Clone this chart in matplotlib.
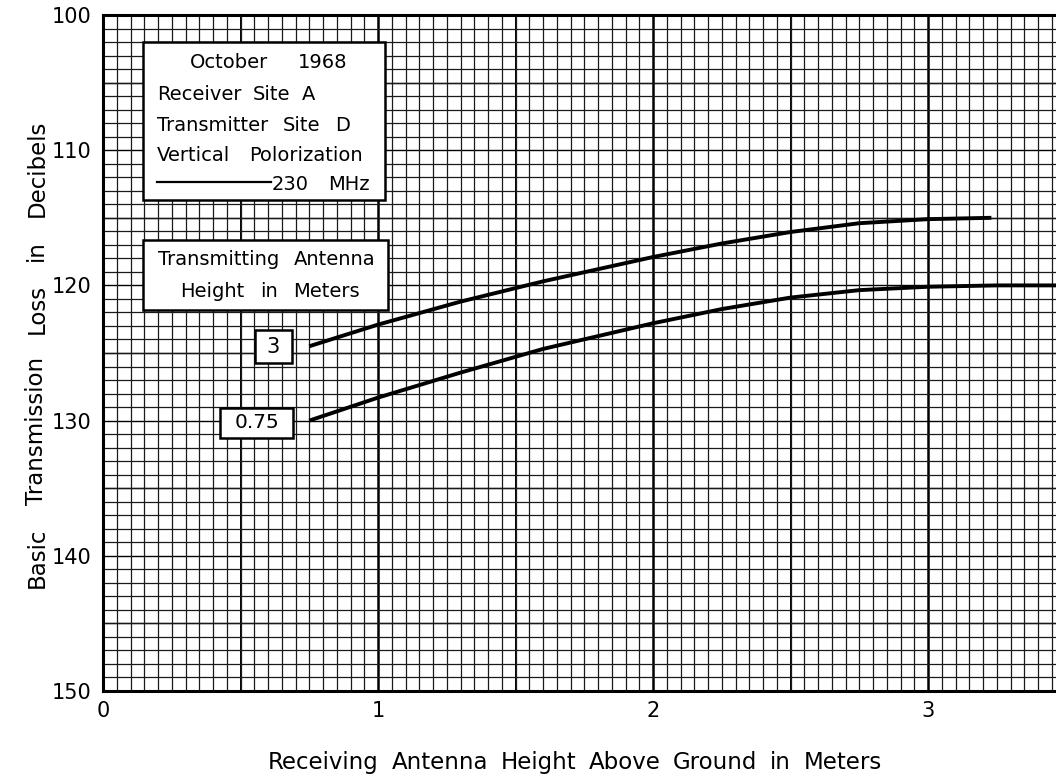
import matplotlib
matplotlib.use("Agg")
import matplotlib.pyplot as plt
import numpy as np
from matplotlib.ticker import MultipleLocator
from matplotlib.patches import Rectangle

# Data
x_tx3 = [0.75, 1.0, 1.3, 1.6, 2.0, 2.25, 2.5, 2.75, 3.0, 3.23]
y_tx3 = [124.5, 122.9, 121.2, 119.7, 117.9, 116.9, 116.05, 115.4, 115.1, 115.0]
x_tx075 = [0.75, 1.0, 1.3, 1.6, 2.0, 2.25, 2.5, 2.75, 3.0, 3.25, 3.47]
y_tx075 = [130.0, 128.3, 126.45, 124.7, 122.8, 121.75, 120.9, 120.35, 120.1, 120.0, 120.0]
x_ticks = [0, 1, 2, 3]
y_ticks = [100, 110, 120, 130, 140, 150]

W, H = 1056, 780
fig = plt.figure(figsize=(W/100, H/100), dpi=100)
ax = fig.add_axes([103/W, 1 - 691/H, 1 - 103/W, (691 - 15)/H])
ax.set_xlim(0, 3.465)
ax.set_ylim(150, 100)

# graph-paper grid
ax.xaxis.set_minor_locator(MultipleLocator(0.05))
ax.yaxis.set_minor_locator(MultipleLocator(1))
ax.set_xticks(x_ticks)
ax.set_yticks(y_ticks)
ax.grid(False)
ax.grid(which='minor', color='#1a1a1a', lw=0.9)
ax.set_axisbelow(True)
for xv in np.arange(0.5, 3.5, 0.5):
    ax.axvline(xv, color='black', lw=1.4 if xv % 1 else 1.8, zorder=0.5)
for yv in np.arange(105, 150, 5):
    ax.axhline(yv, color='black', lw=1.0, zorder=0.5)
ax.tick_params(which='both', length=0)

tick_font = ['Liberation Sans Narrow', 'DejaVu Sans']
ax.set_xticklabels([str(v) for v in x_ticks], fontsize=15, family=tick_font)
ax.set_yticklabels([str(v) for v in y_ticks], fontsize=15, family=tick_font)
ax.tick_params(axis='x', pad=7)
ax.tick_params(axis='y', pad=8)
for s in ['left', 'bottom', 'top']:
    ax.spines[s].set_linewidth(2.2)
ax.spines['right'].set_visible(False)

ax.plot(x_tx3, y_tx3, color='black', lw=2.8, zorder=5, solid_capstyle='butt')
ax.plot(x_tx075, y_tx075, color='black', lw=2.8, zorder=5, solid_capstyle='butt')

renderer = fig.canvas.get_renderer()

def justify(words, x0, x1, y, size, vertical=False, z=11):
    """Spread words between pixel positions x0..x1 along one baseline.
    Horizontal: y = pixel row of the text's middle.  Vertical: x0 bottom, x1 top,
    y = pixel column of the text's middle."""
    half_cap = 0.365 * size * 100 / 72
    texts, widths = [], []
    for w in words:
        if vertical:
            t = fig.text(0, 0, w, fontsize=size, rotation=90, rotation_mode='anchor',
                         ha='left', va='baseline', zorder=z)
            widths.append(t.get_window_extent(renderer).height)
        else:
            t = fig.text(0, 0, w, fontsize=size, ha='left', va='baseline', zorder=z)
            widths.append(t.get_window_extent(renderer).width)
        texts.append(t)
    gap = (abs(x1 - x0) - sum(widths)) / max(len(words) - 1, 1)
    pos = 0.0
    for t, wd in zip(texts, widths):
        if vertical:
            t.set_position(((y + half_cap) / W, 1 - (x0 - pos) / H))
        else:
            t.set_position(((x0 + pos) / W, 1 - (y + half_cap) / H))
        pos += wd + gap
    return texts

justify(['Receiving', 'Antenna', 'Height', 'Above', 'Ground', 'in', 'Meters'], 268, 882, 761, 16.5)
justify(['Basic', 'Transmission', 'Loss', 'in', 'Decibels'], 588, 120, 35, 16.5, vertical=True)

def box(x0, y0, x1, y1, lw=1.8):
    r = Rectangle((x0 / W, 1 - y1 / H), (x1 - x0) / W, (y1 - y0) / H, transform=fig.transFigure,
                  facecolor='white', edgecolor='black', lw=lw, zorder=10)
    fig.add_artist(r)

box(143, 42, 385, 200)
justify(['October', '1968'], 190, 347, 61, 14)
justify(['Receiver', 'Site', 'A'], 157, 315, 93, 14)
justify(['Transmitter', 'Site', 'D'], 157, 350, 124, 14)
justify(['Vertical', 'Polorization'], 157, 363, 154, 14)
fig.add_artist(plt.Line2D([157 / W, 271 / W], [1 - 182 / H] * 2, transform=fig.transFigure,
                          color='black', lw=1.6, zorder=11))
justify(['230', 'MHz'], 272, 370, 183, 14)

box(143, 240, 388, 310)
justify(['Transmitting', 'Antenna'], 158, 375, 258, 14)
justify(['Height', 'in', 'Meters'], 180, 360, 290, 14)

box(255, 330, 292, 363)
fig.text(273.5 / W, 1 - 347 / H, '3', ha='center', va='center', fontsize=15, zorder=11)
box(220, 408, 293, 438)
fig.text(256.5 / W, 1 - 423 / H, '0.75', ha='center', va='center', fontsize=14.5, zorder=11)

fig.savefig('out.png', dpi=100, facecolor='white')
